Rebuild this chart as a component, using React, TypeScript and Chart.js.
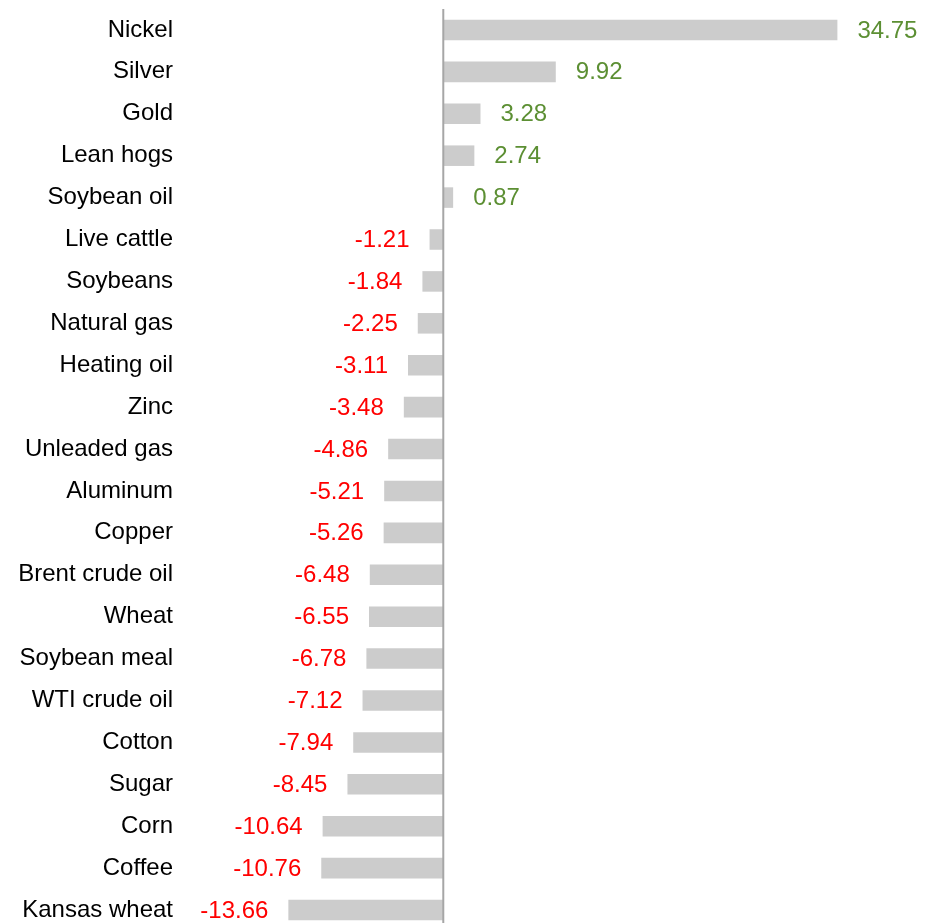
import React, { useEffect, useRef } from "react";
import { Chart, registerables } from "chart.js";

Chart.register(...registerables);

const categories = [
  "Nickel", "Silver", "Gold", "Lean hogs", "Soybean oil", "Live cattle", "Soybeans",
  "Natural gas", "Heating oil", "Zinc", "Unleaded gas", "Aluminum", "Copper",
  "Brent crude oil", "Wheat", "Soybean meal", "WTI crude oil", "Cotton", "Sugar",
  "Corn", "Coffee", "Kansas wheat",
];
const values = [
  34.75, 9.92, 3.28, 2.74, 0.87, -1.21, -1.84, -2.25, -3.11, -3.48, -4.86, -5.21,
  -5.26, -6.48, -6.55, -6.78, -7.12, -7.94, -8.45, -10.64, -10.76, -13.66,
];
const xMin = -22.95;
const xMax = 43.18;

const FONT = "'Liberation Sans', Arial, sans-serif";

export default function App() {
  const ref = useRef<HTMLCanvasElement | null>(null);
  useEffect(() => {
    document.body.style.margin = "0";
    document.documentElement.style.overflow = "hidden";
    const zeroLine = {
      id: "zeroLine",
      afterDatasetsDraw(chart: any) {
        const ctx = chart.ctx;
        const x = chart.scales.x.getPixelForValue(0);
        ctx.save();
        ctx.strokeStyle = "#a6a6a6";
        ctx.lineWidth = 2;
        ctx.beginPath();
        ctx.moveTo(x, chart.chartArea.top);
        ctx.lineTo(x, chart.chartArea.bottom);
        ctx.stroke();
        ctx.restore();
      },
    };
    const valueLabels = {
      id: "valueLabels",
      afterDatasetsDraw(chart: any) {
        const ctx = chart.ctx;
        const meta = chart.getDatasetMeta(0);
        ctx.save();
        ctx.font = `24px ${FONT}`;
        ctx.textBaseline = "middle";
        meta.data.forEach((bar: any, i: number) => {
          const v = values[i];
          const txt = v.toFixed(2);
          if (v >= 0) {
            ctx.fillStyle = "#5c8f33";
            ctx.textAlign = "left";
            ctx.fillText(txt, bar.x + 20, bar.y + 1);
          } else {
            ctx.fillStyle = "#ff0000";
            ctx.textAlign = "right";
            ctx.fillText(txt, bar.x - 20, bar.y + 1);
          }
        });
        ctx.restore();
      },
    };
    const chart = new Chart(ref.current as HTMLCanvasElement, {
      type: "bar",
      data: {
        labels: categories,
        datasets: [
          {
            data: values,
            backgroundColor: "#cccccc",
            borderWidth: 0,
            categoryPercentage: 1,
            barPercentage: 0.49,
          },
        ],
      },
      options: {
        indexAxis: "y",
        animation: false,
        responsive: false,
        maintainAspectRatio: false,
        layout: { padding: { top: 9, bottom: 0, left: 0, right: 0 } },
        plugins: { legend: { display: false }, tooltip: { enabled: false } },
        scales: {
          x: { display: false, min: xMin, max: xMax },
          y: {
            grid: { display: false, drawTicks: false },
            border: { display: false },
            ticks: { padding: 10, color: "#000000", font: { family: FONT, size: 24 } },
            afterFit(scale: any) {
              scale.width = 183;
              scale.paddingTop = 0;
              scale.paddingBottom = 0;
            },
          },
        },
      },
      plugins: [zeroLine, valueLabels],
    });
    return () => chart.destroy();
  }, []);
  return (
    <div style={{ width: 933, height: 923, overflow: "hidden", background: "#fff" }}>
      <canvas ref={ref} width={933} height={931} style={{ display: "block" }} />
    </div>
  );
}
